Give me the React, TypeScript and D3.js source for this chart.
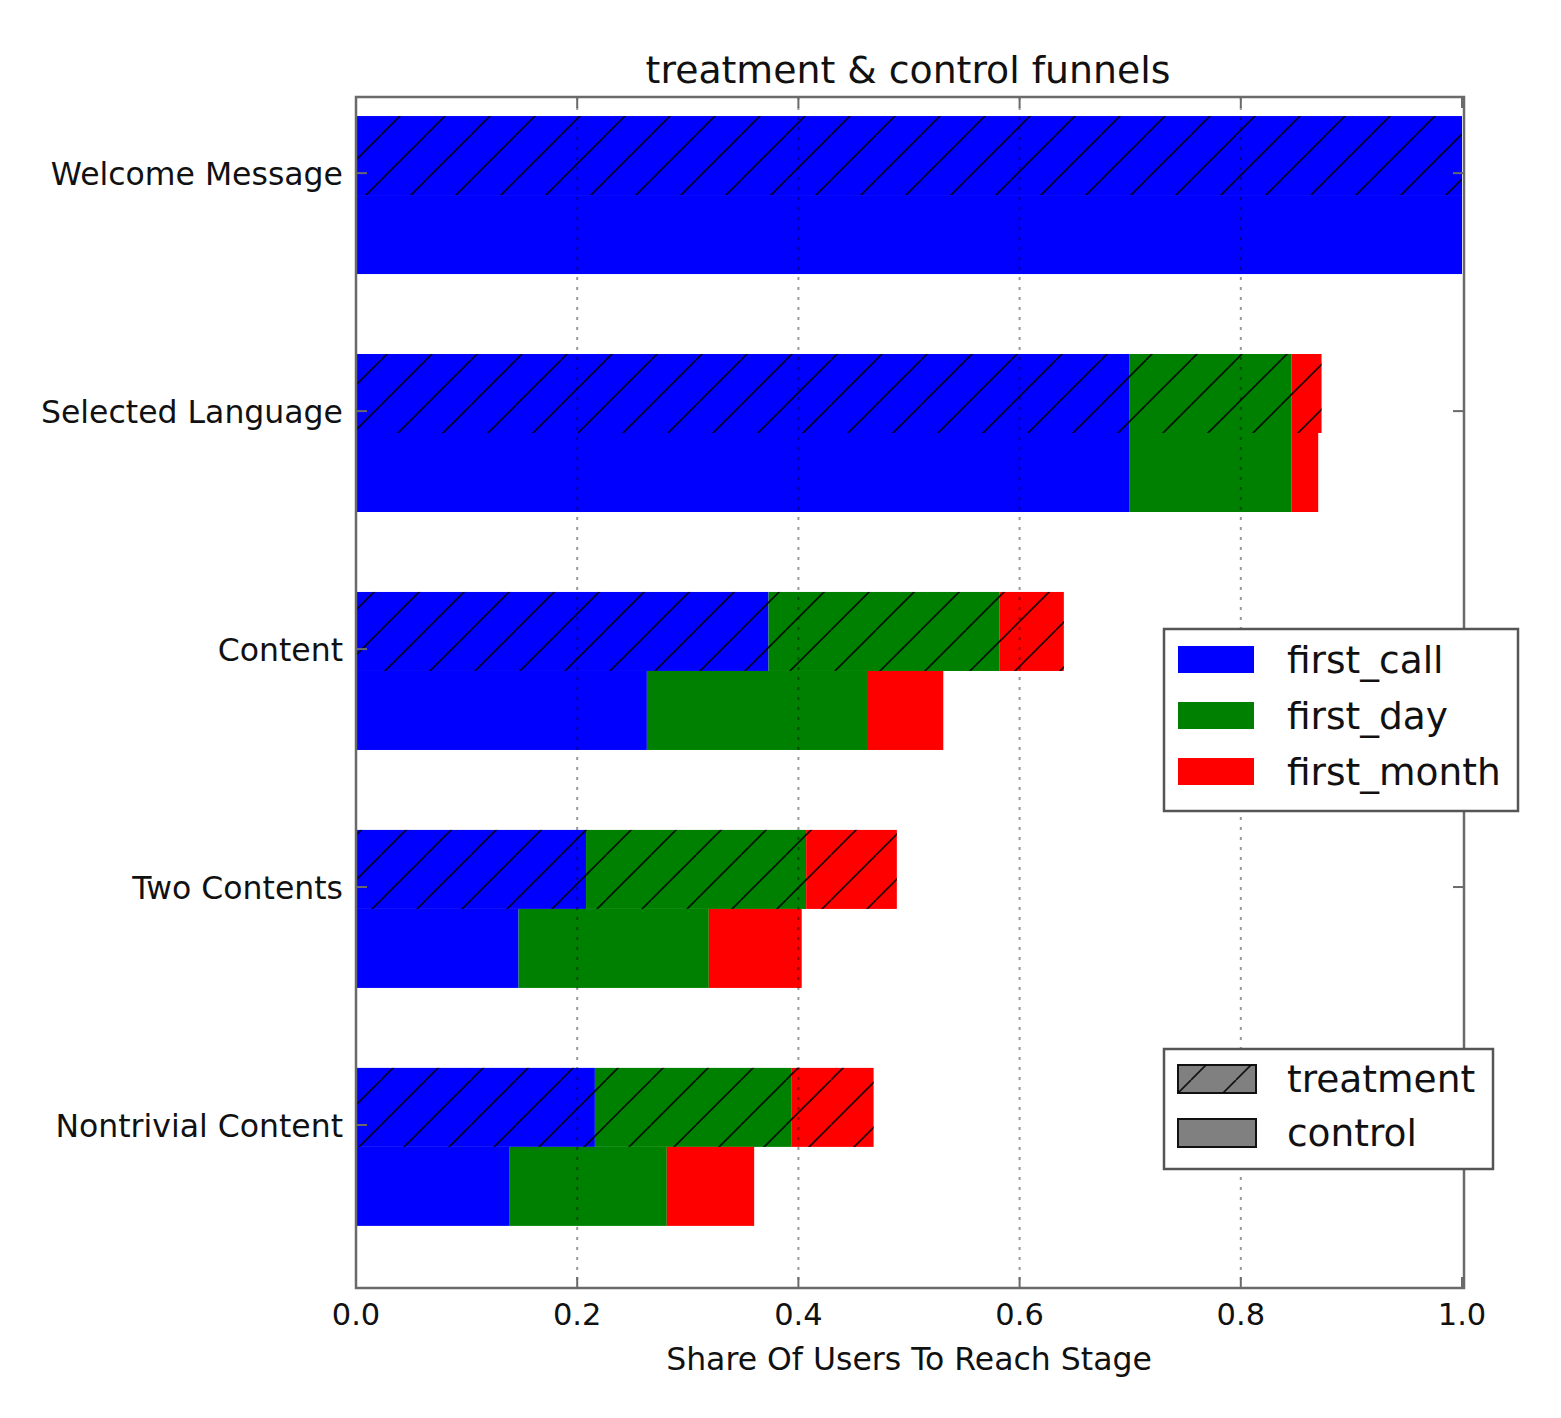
import React from "react";
import * as d3 from "d3";

const categories = ["Welcome Message", "Selected Language", "Content", "Two Contents", "Nontrivial Content"];
const treatmentFirstCall = [1.0, 0.699, 0.373, 0.208, 0.216];
const treatmentFirstDay = [1.0, 0.846, 0.582, 0.407, 0.394];
const treatmentFirstMonth = [1.0, 0.873, 0.64, 0.489, 0.468];
const controlFirstCall = [1.0, 0.699, 0.263, 0.147, 0.139];
const controlFirstDay = [1.0, 0.846, 0.462, 0.319, 0.281];
const controlFirstMonth = [1.0, 0.87, 0.531, 0.403, 0.36];
const xTicks = [0, 0.2, 0.4, 0.6, 0.8, 1.0];
const seriesNames = ["first_call", "first_day", "first_month"];
const seriesColors = ["#0000ff", "#008000", "#ff0000"];
const groupNames = ["treatment", "control"];

const W = 1561;
const H = 1418;
const L = 356, R = 1464, T = 97, B = 1288;
const FONT = "'DejaVu Sans', Verdana, sans-serif";

export default function App() {
  const x = d3.scaleLinear().domain([0, 1]).range([L, 1462]);
  const y = d3.scaleLinear().domain([-0.32, 4.685]).range([T, B]);
  const BAR = 0.332;
  const OFF = -0.24;

  const groups = [
    { name: "treatment", vals: [treatmentFirstCall, treatmentFirstDay, treatmentFirstMonth], off: OFF, hatch: true },
    { name: "control", vals: [controlFirstCall, controlFirstDay, controlFirstMonth], off: OFF + BAR, hatch: false },
  ];

  const bars: any[] = [];
  groups.forEach((g, gi) => {
    categories.forEach((c, i) => {
      const y0 = y(i + g.off);
      const y1 = y(i + g.off + BAR);
      let prev = 0;
      g.vals.forEach((arr, si) => {
        const v = arr[i];
        if (v > prev) {
          bars.push(
            <rect key={`b${gi}-${i}-${si}`} x={x(prev)} y={y0} width={x(v) - x(prev)} height={y1 - y0} fill={seriesColors[si]} />
          );
        }
        prev = Math.max(prev, v);
      });
      if (g.hatch) {
        const m = d3.max(g.vals.map((a) => a[i])) as number;
        bars.push(
          <rect key={`h${gi}-${i}`} x={x(0)} y={y0} width={x(m) - x(0)} height={y1 - y0} fill="url(#hatch)" />
        );
      }
    });
  });

  return (
    <svg width={W} height={H} style={{ position: "absolute", left: 0, top: 0, background: "#fff" }} fontFamily={FONT}>
      <defs>
        <pattern id="hatch" patternUnits="userSpaceOnUse" x={21} y={0} width={45} height={45}>
          <line x1={0} y1={45} x2={45} y2={0} stroke="#000" strokeWidth={1.7} strokeOpacity={0.85} />
          <line x1={-45} y1={45} x2={0} y2={0} stroke="#000" strokeWidth={1.7} strokeOpacity={0.85} />
          <line x1={45} y1={45} x2={90} y2={0} stroke="#000" strokeWidth={1.7} strokeOpacity={0.85} />
        </pattern>
      </defs>
      <rect x={0} y={0} width={W} height={H} fill="#fff" />
      {bars}
      {xTicks.filter((t) => t > 0 && t < 1).map((t) => (
        <line key={`g${t}`} x1={x(t)} x2={x(t)} y1={T} y2={B} stroke="#000" strokeOpacity={0.4} strokeWidth={2} strokeDasharray="3,7" />
      ))}
      <rect x={L} y={T} width={R - L} height={B - T} fill="none" stroke="#6a6a6a" strokeWidth={2.5} />
      {xTicks.map((t) => (
        <g key={`xt${t}`}>
          <line x1={x(t)} x2={x(t)} y1={B} y2={B - 11} stroke="#6a6a6a" strokeWidth={2} />
          <line x1={x(t)} x2={x(t)} y1={T} y2={T + 11} stroke="#6a6a6a" strokeWidth={2} />
          <text x={x(t)} y={1325} textAnchor="middle" fontSize={30.5} fill="#111">{t.toFixed(1)}</text>
        </g>
      ))}
      {categories.map((c, i) => (
        <g key={`yt${i}`}>
          <line x1={L} x2={L + 11} y1={y(i)} y2={y(i)} stroke="#6a6a6a" strokeWidth={2} />
          <line x1={R} x2={R - 11} y1={y(i)} y2={y(i)} stroke="#6a6a6a" strokeWidth={2} />
          <text x={343} y={y(i) + 12} textAnchor="end" fontSize={31.5} fill="#111">{c}</text>
        </g>
      ))}
      <text x={908} y={83} textAnchor="middle" fontSize={37.8} fill="#111">treatment &amp; control funnels</text>
      <text x={909} y={1370} textAnchor="middle" fontSize={31.5} fill="#111">Share Of Users To Reach Stage</text>
      <rect x={1164} y={629} width={354} height={182} fill="#fff" stroke="#555" strokeWidth={2.5} />
      {seriesNames.map((s, i) => (
        <g key={`l1${i}`}>
          <rect x={1178} y={646 + i * 56} width={76} height={27} fill={seriesColors[i]} />
          <text x={1287} y={673 + i * 56} fontSize={37.5} fill="#111">{s}</text>
        </g>
      ))}
      <rect x={1164} y={1049} width={329} height={120} fill="#fff" stroke="#555" strokeWidth={2.5} />
      {groupNames.map((s, i) => (
        <g key={`l2${i}`}>
          <rect x={1178} y={1065 + i * 54} width={78} height={28} fill="#808080" stroke="#111" strokeWidth={2} />
          {i === 0 && <rect x={1178} y={1065} width={78} height={28} fill="url(#hatch)" />}
          <text x={1287} y={1092 + i * 54} fontSize={37.5} fill="#111">{s}</text>
        </g>
      ))}
    </svg>
  );
}
